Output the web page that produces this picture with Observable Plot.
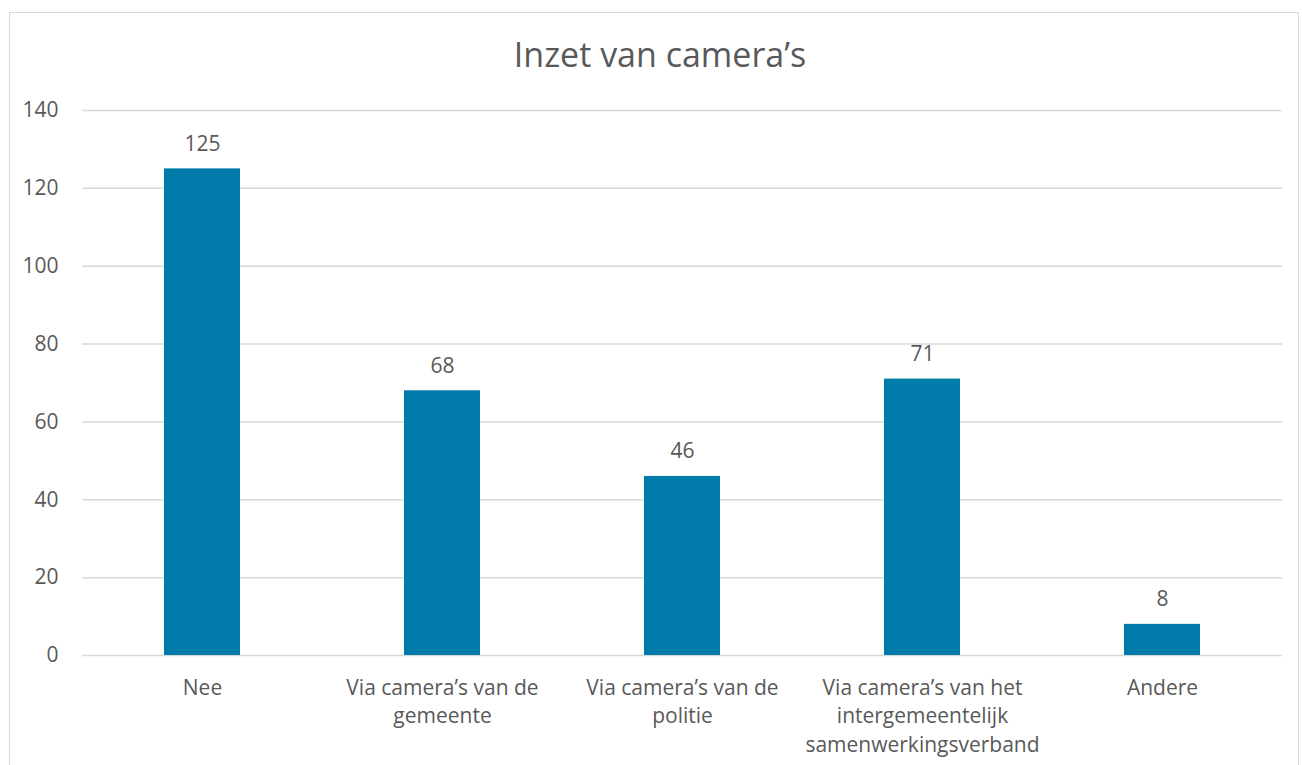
<!DOCTYPE html>
<html>
<head>
<meta charset="utf-8">
<script src="https://cdn.jsdelivr.net/npm/d3@7"></script>
<script src="https://cdn.jsdelivr.net/npm/@observablehq/plot@0.6"></script>
<style>
  html, body { margin: 0; padding: 0; background: #fff; overflow: hidden; }
  body { width: 1302px; height: 765px; position: relative; font-family: "Open Sans", sans-serif; }
  #frame { position: absolute; left: 9px; top: 12px; width: 1290px; height: 800px; border: 1px solid #d9d9d9; box-sizing: border-box; }
  #title { position: absolute; left: 0; width: 1320px; top: 31px; text-align: center; font-size: 34px; color: #595959; line-height: 46px; }
  #chart { position: absolute; left: 0; top: 80px; }
</style>
</head>
<body>
<div id="frame"></div>
<div id="title">Inzet van camera’s</div>
<div id="chart"></div>
<script>
const categories = ["Nee", "Via camera’s van de\ngemeente", "Via camera’s van de\npolitie", "Via camera’s van het\nintergemeentelijk\nsamenwerkingsverband", "Andere"];
const values = [125, 68, 46, 71, 8];
const yTicks = [0, 20, 40, 60, 80, 100, 120, 140];

const data = categories.map((c, i) => ({category: c, value: values[i]}));
const textColor = "#595959";

const chart = Plot.plot({
  width: 1302,
  height: 685,
  marginLeft: 82,
  marginRight: 20,
  marginTop: 30,
  marginBottom: 110,
  style: { fontFamily: "Open Sans, sans-serif", color: textColor, background: "transparent" },
  x: { domain: categories, paddingInner: 0.685, paddingOuter: 0.3425, label: null },
  y: { domain: [0, 140], label: null },
  marks: [
    Plot.gridY(yTicks, { stroke: "#d9d9d9", strokeOpacity: 1, strokeWidth: 1.5 }),
    Plot.barY(data, { x: "category", y: "value", fill: "#007baa" }),
    Plot.text(data, { x: "category", y: "value", text: d => String(d.value), dy: -25, fontSize: 21, fill: textColor }),
    Plot.axisY(yTicks, { tickSize: 0, tickPadding: 24, fontSize: 21, fill: textColor, label: null }),
    Plot.axisX({ tickSize: 0, tickPadding: 19, fontSize: 21, fill: textColor, lineHeight: 1.36, label: null })
  ]
});
document.getElementById("chart").appendChild(chart);
</script>
</body>
</html>
